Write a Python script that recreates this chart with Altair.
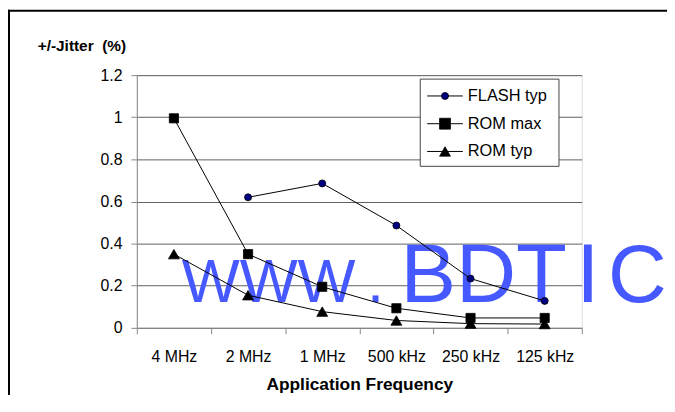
import altair as alt
import pandas as pd

# ---- data ----
categories = ["4 MHz", "2 MHz", "1 MHz", "500 kHz", "250 kHz", "125 kHz"]
series_names = ["FLASH typ", "ROM max", "ROM typ"]
flash_typ = [None, 0.62, 0.686, 0.486, 0.234, 0.128]
rom_max = [0.995, 0.35, 0.195, 0.093, 0.047, 0.047]
rom_typ = [0.35, 0.155, 0.077, 0.035, 0.02, 0.018]
y_ticks = [0, 0.2, 0.4, 0.6, 0.8, 1.0, 1.2]
y_title = "+/-Jitter \u00a0(%)"
x_title = "Application Frequency"
watermark_parts = ["WWW", ".", "BDT", "I", "C"]

rows = []
for name, vals in zip(series_names, [flash_typ, rom_max, rom_typ]):
    for c, v in zip(categories, vals):
        if v is not None:
            rows.append({"freq": c, "series": name, "value": v})
df = pd.DataFrame(rows)

FONT = "Liberation Sans"
W, H = 449, 255
one = pd.DataFrame({"k": [0]})

shape_range = ["circle", "square", "triangle-up"]
fill_range = ["#000080", "#000000", "#000000"]
size_range = [50, 121, 120]

x_enc = alt.X(
    "freq:N",
    sort=categories,
    scale=alt.Scale(type="band", domain=categories, paddingInner=0, paddingOuter=0),
    axis=alt.Axis(
        title=x_title, labelAngle=0, tickBand="extent", tickSize=6,
        labelPadding=15, labelFontSize=16, titleFontSize=17.5,
        titleFontWeight="bold", titlePadding=11, grid=False,
    ),
)
y_enc = alt.Y(
    "value:Q",
    scale=alt.Scale(domain=[0, 1.2], nice=False, zero=True),
    axis=alt.Axis(
        title=None, values=y_ticks, format=".1~f", tickSize=6, labelPadding=9,
        labelFontSize=16, grid=True, gridColor="#5f5f5f", gridWidth=1,
    ),
)

base = alt.Chart(df)

# watermark (between grid and data)
wm_x = [133, 241, 350, 455, 505]
wm_size = [62, 62, 84, 84, 82]
wm_layers = []
for part, xx, sz in zip(watermark_parts, wm_x, wm_size):
    wm_layers.append(
        alt.Chart(one).mark_text(
            text=part, font=FONT, fontSize=sz, color="#4658ff",
            align="center", baseline="alphabetic",
        ).encode(x=alt.value(xx), y=alt.value(229))
    )

lines = base.mark_line(color="black", strokeWidth=1).encode(
    x=x_enc, y=y_enc, detail="series:N"
)
points = base.mark_point(filled=True, opacity=1, stroke="black", strokeWidth=0.8).encode(
    x=x_enc, y=y_enc,
    shape=alt.Shape("series:N", scale=alt.Scale(domain=series_names, range=shape_range), legend=None),
    fill=alt.Fill("series:N", scale=alt.Scale(domain=series_names, range=fill_range), legend=None),
    size=alt.Size("series:N", scale=alt.Scale(domain=series_names, range=size_range), legend=None),
)

# legend (manual)
leg_layers = [
    alt.Chart(one).mark_rect(fill="white", stroke="#444444", strokeWidth=1).encode(
        x=alt.value(286), x2=alt.value(426), y=alt.value(4), y2=alt.value(92)
    )
]
leg_y = [21, 49, 77]
for name, ly, shp, fl, sz in zip(series_names, leg_y, shape_range, fill_range, size_range):
    leg_layers.append(
        alt.Chart(one).mark_rule(color="black", strokeWidth=1).encode(
            x=alt.value(293), x2=alt.value(329), y=alt.value(ly)
        )
    )
    leg_layers.append(
        alt.Chart(one).mark_point(shape=shp, filled=True, fill=fl, stroke="black",
                                  strokeWidth=0.8, size=sz, opacity=1).encode(
            x=alt.value(311), y=alt.value(ly)
        )
    )
    leg_layers.append(
        alt.Chart(one).mark_text(text=name, align="left", baseline="middle",
                                 fontSize=16.5, font=FONT, color="black").encode(
            x=alt.value(334), y=alt.value(ly)
        )
    )

# y title and frame (thin filled rects)
ytitle = alt.Chart(one).mark_text(
    text=y_title, align="left", baseline="middle", fontSize=15.5, fontWeight="bold",
    font=FONT, color="black",
).encode(x=alt.value(-100), y=alt.value(-29))
frame_top = alt.Chart(one).mark_rect(color="black", strokeWidth=0).encode(
    x=alt.value(-130), x2=alt.value(537), y=alt.value(-66), y2=alt.value(-64)
)
frame_left = alt.Chart(one).mark_rect(color="black", strokeWidth=0).encode(
    x=alt.value(-130), x2=alt.value(-128), y=alt.value(-66), y2=alt.value(335)
)

chart = alt.layer(
    *wm_layers, lines, points, *leg_layers, ytitle, frame_top, frame_left
).properties(
    width=W, height=H,
    autosize=alt.AutoSizeParams(type="none"),
    padding={"left": 130, "top": 66, "right": 86, "bottom": 66},
).configure_view(
    stroke="black", strokeWidth=1
).configure_axis(
    domainColor="black", tickColor="black", labelColor="black", titleColor="black",
    labelFont=FONT, titleFont=FONT,
).configure(background="white")

chart.save("out.html", embed_options={"renderer": "svg", "actions": False})
